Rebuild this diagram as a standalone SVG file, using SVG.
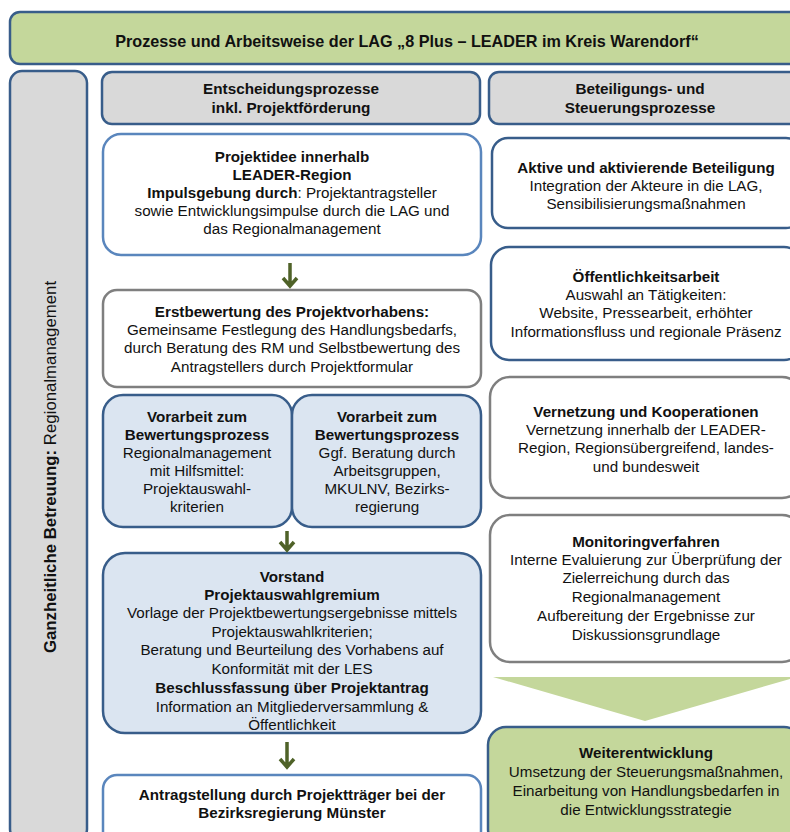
<svg xmlns="http://www.w3.org/2000/svg" width="790" height="832" viewBox="0 0 790 832">
<defs>
<style>
text{font-family:"Liberation Sans",Arial,sans-serif;font-size:15.2px;fill:#111;text-anchor:middle}
.b{font-weight:bold}
.hd{font-weight:bold;font-size:15.3px}
.tt{font-weight:bold;font-size:16.2px}
.side{font-size:16.8px}
.blue{stroke:#385d8a;stroke-width:2.5}
.lblue{stroke:#5a86bd;stroke-width:2.5}
.gray{stroke:#7f7f7f;stroke-width:2.5}
.w{fill:#fff}
.g{fill:#d9d9d9}
.lb{fill:#dbe5f1}
.gr{fill:#c4d79b}
.arr{stroke:#4f6228;stroke-width:3.5;fill:none}
</style>
</defs>
<rect width="790" height="832" fill="#fff"/>
<g id="title">
<rect x="10" y="12" width="800" height="52" rx="10" class="gr blue"/>
<text x="407" y="47" class="tt">Prozesse und Arbeitsweise der LAG „8 Plus – LEADER im Kreis Warendorf“</text>
</g>
<g id="side">
<rect x="10" y="71" width="77" height="770" rx="12" class="g blue"/>
<text transform="translate(56,467) rotate(-90)" class="side"><tspan class="b">Ganzheitliche Betreuung:</tspan> Regionalmanagement</text>
</g>
<g id="head1">
<rect x="102" y="72" width="378" height="52" rx="10" class="g blue"/>
<text x="291" y="94" class="hd">Entscheidungsprozesse</text>
<text x="291" y="113" class="hd">inkl. Projektförderung</text>
</g>
<g id="head2">
<rect x="489" y="72" width="320" height="52" rx="10" class="g blue"/>
<text x="640" y="94" class="hd">Beteiligungs-  und</text>
<text x="640" y="113" class="hd">Steuerungsprozesse</text>
</g>
<g id="projektidee">
<rect x="103" y="134" width="378" height="121" rx="18" class="w lblue"/>
<text x="292" y="162" class="b">Projektidee innerhalb</text>
<text x="292" y="180" class="b">LEADER-Region</text>
<text x="292" y="198"><tspan class="b">Impulsgebung durch</tspan>: Projektantragsteller</text>
<text x="292" y="216">sowie Entwicklungsimpulse  durch die LAG und</text>
<text x="292" y="234">das Regionalmanagement</text>
</g>
<g id="erstbewertung">
<rect x="103" y="290" width="378" height="97" rx="14" class="w gray"/>
<text x="292" y="317" class="b">Erstbewertung des Projektvorhabens:</text>
<text x="292" y="335">Gemeinsame Festlegung des Handlungsbedarfs,</text>
<text x="292" y="353">durch Beratung des RM und  Selbstbewertung des</text>
<text x="292" y="372">Antragstellers durch Projektformular</text>
</g>
<g id="vorarbeit1">
<rect x="103" y="395" width="189" height="132" rx="20" class="lb blue"/>
<text x="197" y="422" class="b">Vorarbeit zum</text>
<text x="197" y="440" class="b">Bewertungsprozess</text>
<text x="197" y="458">Regionalmanagement</text>
<text x="197" y="476">mit Hilfsmittel:</text>
<text x="197" y="494">Projektauswahl-</text>
<text x="197" y="512">kriterien</text>
</g>
<g id="vorarbeit2">
<rect x="292" y="395" width="189" height="132" rx="20" class="lb blue"/>
<text x="387" y="422" class="b">Vorarbeit zum</text>
<text x="387" y="440" class="b">Bewertungsprozess</text>
<text x="387" y="458">Ggf. Beratung durch</text>
<text x="387" y="476">Arbeitsgruppen,</text>
<text x="387" y="494">MKULNV,  Bezirks-</text>
<text x="387" y="512">regierung</text>
</g>
<g id="vorstand">
<rect x="103" y="553" width="378" height="180" rx="22" class="lb blue"/>
<text x="292" y="582" class="b">Vorstand</text>
<text x="292" y="600" class="b">Projektauswahlgremium</text>
<text x="292" y="618">Vorlage der Projektbewertungsergebnisse mittels</text>
<text x="292" y="637">Projektauswahlkriterien;</text>
<text x="292" y="655">Beratung und  Beurteilung des Vorhabens auf</text>
<text x="292" y="674">Konformität mit der LES</text>
<text x="292" y="693" class="b">Beschlussfassung über Projektantrag</text>
<text x="292" y="712">Information an Mitgliederversammlung  &amp;</text>
<text x="292" y="730">Öffentlichkeit</text>
</g>
<g id="antrag">
<rect x="103" y="775" width="378" height="70" rx="14" class="w lblue"/>
<text x="292" y="800" class="b">Antragstellung durch Projektträger bei der</text>
<text x="292" y="818" class="b">Bezirksregierung Münster</text>
</g>
<g id="aktive">
<rect x="492" y="138" width="310" height="90" rx="16" class="w blue"/>
<text x="646" y="173" class="b">Aktive und aktivierende Beteiligung</text>
<text x="646" y="191">Integration der Akteure in die LAG,</text>
<text x="646" y="209">Sensibilisierungsmaßnahmen</text>
</g>
<g id="oeffentlichkeit">
<rect x="491" y="247" width="311" height="113" rx="18" class="w blue"/>
<text x="646" y="282" class="b">Öffentlichkeitsarbeit</text>
<text x="646" y="300">Auswahl an Tätigkeiten:</text>
<text x="646" y="318">Website, Pressearbeit, erhöhter</text>
<text x="646" y="337">Informationsfluss und  regionale Präsenz</text>
</g>
<g id="vernetzung">
<rect x="490" y="377" width="312" height="121" rx="20" class="w gray"/>
<text x="646" y="417" class="b">Vernetzung und Kooperationen</text>
<text x="646" y="435">Vernetzung  innerhalb der LEADER-</text>
<text x="646" y="453">Region, Regionsübergreifend, landes-</text>
<text x="646" y="472">und bundesweit</text>
</g>
<g id="monitoring">
<rect x="490" y="515" width="312" height="147" rx="20" class="w gray"/>
<text x="646" y="547" class="b">Monitoringverfahren</text>
<text x="646" y="565">Interne Evaluierung zur Überprüfung  der</text>
<text x="646" y="583">Zielerreichung durch das</text>
<text x="646" y="602">Regionalmanagement</text>
<text x="646" y="621">Aufbereitung der Ergebnisse zur</text>
<text x="646" y="640">Diskussionsgrundlage</text>
</g>
<g id="weiterentwicklung">
<rect x="488" y="727" width="314" height="120" rx="18" class="gr blue"/>
<text x="646" y="758" class="b">Weiterentwicklung</text>
<text x="646" y="777">Umsetzung  der Steuerungsmaßnahmen,</text>
<text x="646" y="796">Einarbeitung von Handlungsbedarfen  in</text>
<text x="646" y="815">die Entwicklungsstrategie</text>
</g>
<g id="connectors">
<path class="arr" d="M290 263V286M283 278L290 286L297 278"/>
<path class="arr" d="M287 531V550M280 542L287 550L294 542"/>
<path class="arr" d="M287 742V767M280 759L287 767L294 759"/>
<polygon points="493,677 790,677 790,679 645,721" fill="#c4d79b"/>
</g>
</svg>
